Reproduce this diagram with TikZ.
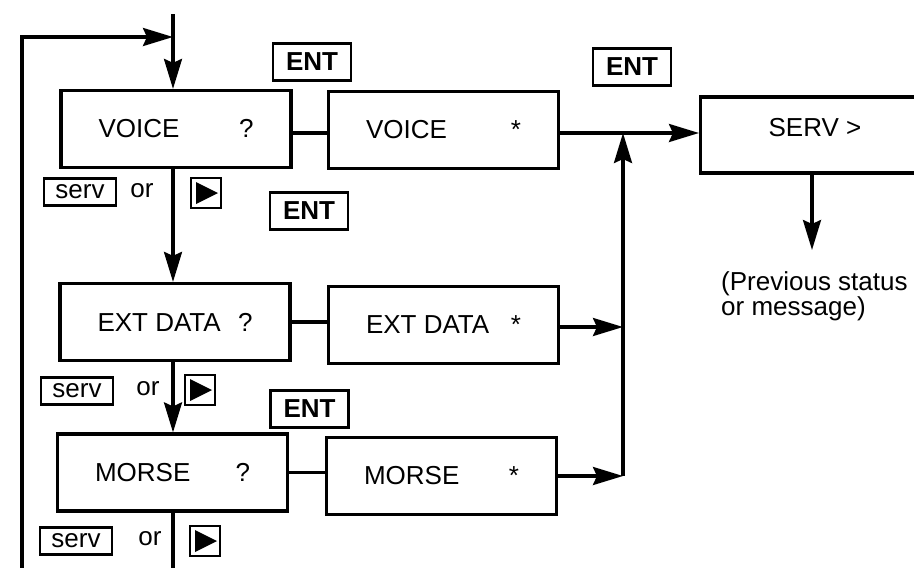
\documentclass[tikz,border=0pt]{standalone}
\usepackage{fontspec}
\setmainfont{Liberation Sans}
\usetikzlibrary{arrows.meta}
\begin{document}
\begin{tikzpicture}[x=1pt,y=-1pt,
  every node/.style={font=\fontsize{26}{25}\selectfont, inner sep=0pt},
  disp/.style={draw, line width=3.2pt, minimum width=230pt, minimum height=77pt},
  keybox/.style={draw, line width=2.8pt, minimum width=78pt, minimum height=37pt, font=\fontsize{26}{25}\selectfont\bfseries},
  servkey/.style={draw, line width=2.6pt, minimum width=72pt, minimum height=27pt},
  playkey/.style={draw, line width=2.6pt, minimum width=30pt, minimum height=30pt},
  conn/.style={line width=3.2pt},
  arr/.style={conn, -{Stealth[length=30pt,width=18pt,inset=4pt]}}
]
\useasboundingbox (0,0) rectangle (914,568);
\fill[white] (0,0) rectangle (914,568);

% display boxes
\node[disp] (vq) at (176,129) {\makebox[155pt]{VOICE\hfill ?}};
\node[disp] (vs) at (443.5,130) {\makebox[155pt]{VOICE\hfill *}};
\node[disp] (eq) at (175,322) {\makebox[155pt]{EXT DATA\hfill ?}};
\node[disp] (es) at (443.5,325) {\makebox[155pt]{EXT DATA\hfill *}};
\node[disp] (mq) at (172.5,472.5) {\makebox[155pt]{MORSE\hfill ?}};
\node[disp] (ms) at (441.5,476) {\makebox[155pt]{MORSE\hfill *}};

% SERV box (runs past the right edge)
\node[disp, minimum width=250pt, minimum height=76pt, anchor=west] (serv) at (699,135) {};
\node (servt) at (815,128) {SERV >};

% ENT keys
\node[keybox] (ent1) at (312,62) {ENT};
\node[keybox] (ent2) at (632,67) {ENT};
\node[keybox] (ent3) at (309,211) {ENT};
\node[keybox] (ent4) at (309.5,409) {ENT};

% serv / or / play keys
\node[servkey] (s1) at (80,192) {serv};
\node (o1) at (142,191) {or};
\node[playkey] (p1) at (206,193) {};
\node[servkey] (s2) at (77,391) {serv};
\node (o2) at (148,389) {or};
\node[playkey] (p2) at (200,390) {};
\node[servkey] (s3) at (76,541) {serv};
\node (o3) at (150,539) {or};
\node[playkey] (p3) at (205,541) {};
\foreach \p in {p1,p2,p3}
  \fill[shift={(\p.center)}] (-10,-11) -- (12,0) -- (-10,11) -- cycle;

% previous status text
\node[anchor=north west, align=left] (prev) at (721,271) {(Previous status\\or message)};

% coordinates
\coordinate (top) at (173,14);
\coordinate (lt) at (22,37);
\coordinate (lb) at (22,568);
\coordinate (j) at (623,0);
\coordinate (pd) at (812,250);

% entry and loop
\draw[arr] (top) -- (top |- vq.north);
\draw[arr] (lb) -- (lt) -- (lt -| top);

% main chain
\draw[arr] (vq.south -| top) -- (eq.north -| top);
\draw[arr] (eq.south -| top) -- (mq.north -| top);
\draw[conn] (mq.south -| top) -- (top |- lb);

% ? to * links
\draw[conn] ([yshift=-4pt]vq.east) -- ([yshift=-4pt]vq.east -| vs.west);
\draw[conn] (eq.east) -- (eq.east -| es.west);
\draw[conn] (mq.east) -- (mq.east -| ms.west);

% to SERV
\draw[arr] ([yshift=-3pt]vs.east) -- ([yshift=-3pt]vs.east -| serv.west);
\draw[arr] ([yshift=-2pt]es.east) -- ([yshift=-2pt]es.east -| j);
\draw[arr] (ms.east) -- (ms.east -| j);
\draw[arr] (ms.east -| j) -- ([yshift=-3pt]vs.east -| j);

% SERV down
\draw[arr] (serv.south -| pd) -- (pd);
\end{tikzpicture}
\end{document}
